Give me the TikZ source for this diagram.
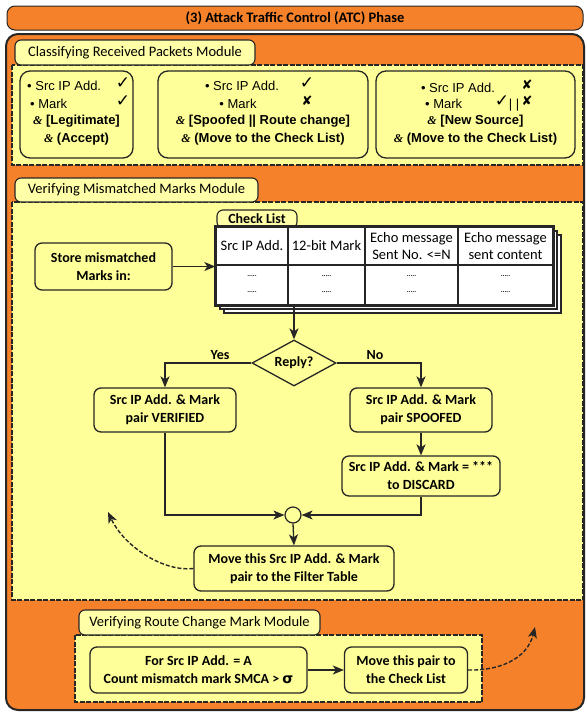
\documentclass[tikz,border=0pt]{standalone}
\usepackage{fontspec}
\setmainfont{Carlito}
\newfontfamily\arialf{Liberation Sans}
\newfontfamily\serf{Liberation Serif}
\newfontfamily\symf{DejaVu Sans}
\usetikzlibrary{arrows.meta,shapes.geometric}
\definecolor{orng}{HTML}{F5822A}
\definecolor{ylw}{HTML}{FFFF99}
\definecolor{tabylw}{HTML}{FFFFA8}
\definecolor{edge}{HTML}{262626}
\newcommand{\amp}{{\serf\itshape\fontsize{12}{12}\selectfont\&}}
\begin{document}
\begin{tikzpicture}[x=1pt,y=-1pt,
  region/.style={fill=ylw, draw=edge, line width=1.2pt, dash pattern=on 5pt off 1.5pt},
  tabbox/.style={draw=edge, line width=1.1pt, fill=tabylw, rounded corners=6pt, inner sep=0pt, font=\fontsize{14.5}{16}\selectfont},
  cbox/.style={draw=edge, line width=1.3pt, fill=ylw, rounded corners=10pt, inner sep=0pt},
  ctxt/.style={inner sep=0pt, font=\arialf\fontsize{13}{15}\selectfont},
  btxt/.style={inner sep=0pt, font=\arialf\bfseries\fontsize{13}{15}\selectfont},
  sym/.style={inner sep=0pt, font=\symf\fontsize{17}{17}\selectfont},
  xsym/.style={inner sep=0pt, font=\symf\fontsize{13}{13}\selectfont},
  fbox/.style={draw=edge, line width=1.3pt, fill=ylw, rounded corners=7pt, inner sep=0pt, align=center, font=\bfseries\fontsize{14}{18}\selectfont},
  cell/.style={draw=edge, line width=1.4pt, fill=white, inner sep=0pt, align=center, font=\fontsize{14.5}{17.5}\selectfont},
  dots/.style={inner sep=0pt, font=\bfseries\fontsize{7}{8}\selectfont},
  arr/.style={draw=edge, line width=1.3pt, -{Stealth[length=11pt,width=9pt,inset=3pt]}},
  dasharr/.style={draw=edge, line width=1.4pt, dash pattern=on 4pt off 2pt, -{Stealth[length=11pt,width=9pt,inset=3pt]}},
  ln/.style={draw=edge, line width=1.3pt}
]
\useasboundingbox (0,0) rectangle (587,713);
\fill[white] (0,0) rectangle (587,713);

% title and outer frame
\node[draw=edge, line width=1pt, fill=orng, rounded corners=8pt, minimum width=576pt, minimum height=24pt, inner sep=0pt, font=\bfseries\fontsize{14.5}{16}\selectfont] (title) at (295,18) {(3) Attack Traffic Control (ATC) Phase};
\draw[draw=edge, line width=2pt, fill=orng, rounded corners=12pt] (6,34) rectangle (584,710);

% ---- Classifying module
\draw[region] (12,65) rectangle (583,165);
\node[tabbox, minimum width=240pt, minimum height=25pt] (tab1) at (135,52.5) {Classifying Received Packets Module};

\node[cbox, minimum width=113pt, minimum height=87pt] (b1) at (76.5,114.5) {};
\node[cbox, minimum width=210pt, minimum height=87pt] (b2) at (263,114.5) {};
\node[cbox, minimum width=199pt, minimum height=87pt] (b3) at (475.5,114.5) {};

% box 1
\node[ctxt, anchor=west] (b1a) at (27,86) {• Src IP Add.};
\node[sym] (b1ac) at (123,83) {✓};
\node[ctxt, anchor=west] (b1b) at (30,104) {• Mark};
\node[sym] (b1bc) at (123,101) {✓};
\node[btxt] (b1c) at (76.5,121) {\amp{} [Legitimate]};
\node[btxt] (b1d) at (76.5,139) {\amp{} (Accept)};

% box 2
\node[ctxt] (b2a) at (242,86) {• Src IP Add.};
\node[sym] (b2ac) at (307,83) {✓};
\node[ctxt] (b2b) at (238,104) {• Mark};
\node[xsym] (b2bc) at (307,101) {✘};
\node[btxt] (b2c) at (263,121) {\amp{} [Spoofed || Route change]};
\node[btxt] (b2d) at (263,139) {\amp{} (Move to the Check List)};

% box 3
\node[ctxt] (b3a) at (458,88) {• Src IP Add.};
\node[xsym] (b3ac) at (527,85) {✘};
\node[ctxt, anchor=west] (b3b) at (425,104) {• Mark};
\node[sym] (b3bc) at (502,101) {✓};
\node[ctxt] (b3bor) at (514,105) {| |};
\node[xsym] (b3bx) at (527,101) {✘};
\node[btxt] (b3c) at (475.5,121) {\amp{} [New Source]};
\node[btxt] (b3d) at (475.5,139) {\amp{} (Move to the Check List)};

% ---- Verifying mismatched marks module
\draw[region] (12,202) rectangle (583,600);
\node[tabbox, minimum width=243pt, minimum height=24pt] (tab2) at (136.5,190) {Verifying Mismatched Marks Module};

% check list tab + table
\node[tabbox, minimum width=80pt, minimum height=18pt, font=\bfseries\fontsize{14}{15}\selectfont] (cltab) at (257,219) {Check List};
\draw[draw=edge, line width=1.2pt, fill=white] (224,235) rectangle (561,313);
\draw[draw=edge, line width=1.2pt, fill=white] (220,231) rectangle (557,309);
\node[cell, minimum width=72pt, minimum height=38pt] (h1) at (252,246) {Src IP Add.};
\node[cell, minimum width=77pt, minimum height=38pt] (h2) at (326.5,246) {12-bit Mark};
\node[cell, minimum width=93pt, minimum height=38pt] (h3) at (411.5,246) {Echo message\\Sent No. <=N};
\node[cell, minimum width=95pt, minimum height=38pt] (h4) at (505.5,246) {Echo message\\sent content};
\node[cell, minimum width=72pt, minimum height=40pt] (c1) at (252,285) {};
\node[cell, minimum width=77pt, minimum height=40pt] (c2) at (326.5,285) {};
\node[cell, minimum width=93pt, minimum height=40pt] (c3) at (411.5,285) {};
\node[cell, minimum width=95pt, minimum height=40pt] (c4) at (505.5,285) {};
\draw[draw=edge, line width=1.8pt] (h1.north west) rectangle (c4.south east);
\foreach \c in {c1,c2,c3,c4}{
  \node[dots] (\c u) at ([yshift=-7pt]\c.center) {.....};
  \node[dots] (\c l) at ([yshift=9pt]\c.center) {.....};
}

\node[fbox, minimum width=137pt, minimum height=47pt] (store) at (103.5,266.5) {Store mismatched\\Marks in:};
\draw[arr] (store.east) -- (store.east -| h1.west);

% decision
\node[diamond, draw=edge, line width=1.3pt, fill=ylw, minimum width=84pt, minimum height=46pt, inner sep=0pt, aspect=1.8, font=\bfseries\fontsize{14}{16}\selectfont] (rep) at (294,363) {Reply?};
\draw[arr] (c2.south -| rep.north) -- (rep.north);

\node[fbox, minimum width=142pt, minimum height=44pt] (ver) at (165,410) {Src IP Add. \& Mark\\pair VERIFIED};
\node[fbox, minimum width=142pt, minimum height=44pt] (spf) at (421,410) {Src IP Add. \& Mark\\pair SPOOFED};
\node[fbox, minimum width=158pt, minimum height=40pt] (dis) at (421,476) {Src IP Add. \& Mark = ***\\to DISCARD};

\node[inner sep=0pt, font=\bfseries\fontsize{14}{16}\selectfont] (yes) at (220,355) {Yes};
\node[inner sep=0pt, font=\bfseries\fontsize{14}{16}\selectfont] (no) at (375,355) {No};

\draw[arr] (rep.west) -| (ver.north);
\draw[arr] (rep.east) -| (spf.north);
\draw[arr] (spf.south) -- (dis.north);

\node[circle, draw=edge, line width=1.2pt, fill=ylw, minimum size=16pt, inner sep=0pt] (join) at (293,515) {};
\draw[arr] (ver.south) |- (join.west);
\draw[arr] (dis.south) |- (join.east);

\node[fbox, minimum width=200pt, minimum height=45pt] (filt) at (294,568.5) {Move this Src IP Add. \& Mark\\pair to the Filter Table};
\draw[arr] (join.south) -- (filt.north);

\coordinate (lt) at (108,512);
\draw[dasharr] (filt.west) .. controls (165,572) and (125,548) .. (lt);

% ---- Verifying route change mark module
\draw[region] (75,635) rectangle (482,702);
\node[tabbox, minimum width=241pt, minimum height=25pt] (tab3) at (199.5,622.5) {Verifying Route Change Mark Module};

\node[fbox, minimum width=217pt, minimum height=46pt] (smca) at (198.5,670) {For Src IP Add. = A\\Count mismatch mark SMCA > {\symf\bfseries σ}};
\node[fbox, minimum width=123pt, minimum height=46pt] (mvp) at (406,670) {Move this pair to\\the Check List};
\draw[arr] (smca.east) -- (mvp.west);

\coordinate (rt) at (535,627);
\draw[dasharr] (mvp.east) .. controls (497,671) and (527,660) .. (rt);
\end{tikzpicture}
\end{document}
